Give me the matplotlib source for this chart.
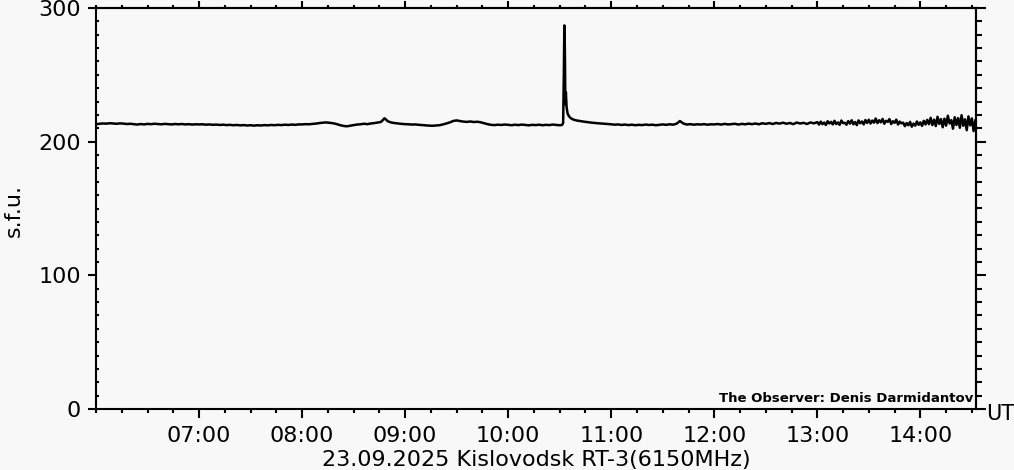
import numpy as np
import matplotlib.pyplot as plt
from matplotlib.ticker import MultipleLocator, FixedLocator, NullFormatter

# flux in s.f.u.; each block: start (hour), step (min), values
quiet_0600 = [213.0, 213.4, 213.6, 213.5, 213.8, 213.6, 213.4, 213.7, 213.5, 213.2,
              213.4, 213.1, 212.8, 213.2, 212.9, 213.3, 213.1, 213.4, 213.2, 213.0,
              213.3, 213.1, 212.9, 213.2, 213.0, 213.2, 212.9, 213.1, 212.8, 213.0]
quiet_0700 = [212.9, 213.0, 212.7, 212.9, 212.6, 212.8, 212.5, 212.7, 212.4, 212.6,
              212.3, 212.5, 212.2, 212.4, 212.1, 212.3, 212.0, 212.3, 212.1, 212.4,
              212.2, 212.5, 212.3, 212.6, 212.4, 212.7, 212.5, 212.8, 212.6, 212.9]
quiet_0800 = [212.9, 213.1, 213.0, 213.3, 213.5, 213.9, 214.2, 214.4, 214.1, 213.8,
              213.2, 212.4, 211.8, 211.5, 211.9, 212.4, 212.8, 213.0, 213.4, 213.1,
              213.6, 213.9, 214.3, 214.8, 217.5, 215.2, 214.3, 213.9, 213.6, 213.3]
quiet_0900 = [213.1, 213.0, 212.8, 212.9, 212.6, 212.4, 212.2, 212.0, 211.9, 212.1,
              212.3, 212.9, 213.6, 214.4, 215.5, 215.9, 215.4, 215.0, 214.8, 215.1,
              214.7, 214.9, 214.5, 213.8, 213.1, 212.6, 212.4, 212.7, 212.5, 212.8]
quiet_1000 = [212.6, 212.3, 212.7, 212.4, 212.8, 212.5, 212.2, 212.6, 212.4, 212.7,
              212.3, 212.6, 212.4, 212.8, 212.5, 212.3]

# burst near 10:33 (minutes after 10:00)
burst_min = [31.4, 32.0, 32.4, 32.7, 33.0, 33.3, 33.6, 34.0, 34.6, 35.4,
             36.5, 38.0, 40.0, 44.0, 48.0, 52.0, 56.0]
burst_val = [212.5, 214.0, 250.0, 287.0, 270.0, 228.0, 237.0, 226.0, 221.0, 219.0,
             217.5, 216.5, 215.8, 215.0, 214.3, 213.8, 213.4]

quiet_1100 = [213.0, 212.7, 212.9, 212.5, 212.8, 212.4, 212.7, 212.3, 212.6, 212.4,
              212.8, 212.5, 212.7, 212.3, 212.6, 212.9, 212.6, 213.0, 212.7, 213.4,
              215.4, 213.6, 212.8, 213.1, 212.7, 213.0, 212.8, 213.1, 212.7, 213.0]
quiet_1200 = [212.9, 213.2, 212.8, 213.3, 212.9, 213.1, 213.4, 212.8, 213.3, 213.0,
              213.5, 213.1, 213.6, 213.0, 213.8, 213.3, 213.9, 213.2, 214.0, 213.5,
              214.2, 213.4, 214.0, 213.1, 214.3, 213.6, 214.1, 213.2, 214.4, 213.7]
noisy_1300 = [214.6, 212.8, 215.0, 213.1, 214.3, 212.5, 215.3, 213.6, 214.8, 212.9,
              215.6, 213.2, 214.4, 212.6, 215.8, 213.9, 214.1, 212.7, 215.4, 213.5,
              216.0, 213.0, 214.7, 212.4, 215.9, 213.8, 215.1, 212.9, 216.2, 214.0,
              216.4, 213.6, 215.8, 214.2, 217.3, 213.9, 216.0, 214.5, 217.0, 213.4,
              215.6, 214.8, 216.9, 213.2, 215.3, 214.1, 216.5, 212.8, 215.0, 213.7,
              214.2, 211.6, 213.9, 212.3, 214.8, 211.2, 213.5, 212.0, 215.1, 212.6,
              214.4, 211.8, 215.6, 212.9, 216.3,
              213.1, 217.8, 212.4, 216.5, 211.7, 218.6, 213.3, 216.9, 210.8, 217.2,
              212.0, 219.4, 213.6, 216.1, 209.7, 218.3, 212.5, 217.6, 210.4, 219.8,
              211.9, 216.7, 208.6, 218.9, 212.2, 217.4, 207.9, 215.8]

blocks = [(6.0, 2, quiet_0600), (7.0, 2, quiet_0700), (8.0, 2, quiet_0800),
          (9.0, 2, quiet_0900), (10.0, 2, quiet_1000)]

hour_labels = ['07:00', '08:00', '09:00', '10:00', '11:00', '12:00', '13:00', '14:00']
hour_ticks = [7, 8, 9, 10, 11, 12, 13, 14]

t, v = [], []
for start, step, vals in blocks:
    t += list(start + np.arange(len(vals)) * step / 60.0)
    v += vals
t += [10.0 + m / 60.0 for m in burst_min]
v += burst_val
for start, step, vals in [(11.0, 2, quiet_1100), (12.0, 2, quiet_1200), (13.0, 1, noisy_1300)]:
    t += list(start + np.arange(len(vals)) * step / 60.0)
    v += vals

bg = '#f8f8f8'
W, H = 1014, 470
fig = plt.figure(figsize=(W / 100, H / 100), dpi=100, facecolor=bg)
ax = fig.add_axes([96 / W, 61 / H, 880 / W, 401 / H], facecolor=bg)

ax.plot(t, v, color='black', lw=1.8)
ax.set_xlim(6.0, 14.54)
ax.set_ylim(0, 300)

fs = 16
ax.xaxis.set_major_locator(FixedLocator(hour_ticks))
ax.set_xticklabels(hour_labels, fontsize=fs)
ax.xaxis.set_minor_locator(MultipleLocator(0.25))
ax.yaxis.set_major_locator(FixedLocator([0, 100, 200, 300]))
ax.set_yticklabels(['0', '100', '200', '300'], fontsize=fs)
ax.yaxis.set_minor_locator(MultipleLocator(10))

for s in ax.spines.values():
    s.set_linewidth(1.5)
ax.tick_params(axis='x', which='major', direction='out', length=6.5, width=1.5, pad=6)
ax.tick_params(axis='x', which='minor', direction='out', length=3, width=1.5)
ax.tick_params(axis='y', which='major', direction='out', length=6, width=1.5, pad=5)
ax.tick_params(axis='y', which='minor', direction='in', length=2.5, width=1.5)

top = ax.secondary_xaxis('top')
top.xaxis.set_major_locator(FixedLocator(hour_ticks))
top.xaxis.set_minor_locator(MultipleLocator(0.25))
top.xaxis.set_major_formatter(NullFormatter())
top.tick_params(which='major', direction='out', length=5, width=1.5)
top.tick_params(which='minor', direction='out', length=2.5, width=1.5)
top.spines['top'].set_linewidth(1.5)

right = ax.secondary_yaxis('right')
right.yaxis.set_major_locator(FixedLocator([0, 100, 200, 300]))
right.yaxis.set_minor_locator(MultipleLocator(10))
right.yaxis.set_major_formatter(NullFormatter())
right.tick_params(which='major', direction='out', length=7, width=1.5)
right.tick_params(which='minor', direction='out', length=4, width=1.5)
right.spines['right'].set_linewidth(1.5)

fig.text(14 / W, 1 - 211 / H, 's.f.u.', rotation=90, ha='center', va='center', fontsize=fs)
fig.text(986 / W, 1 - 414 / H, 'UT', ha='left', va='center', fontsize=15)
fig.text(536 / W, 1 - 450 / H, '23.09.2025 Kislovodsk RT-3(6150MHz)',
         ha='center', va='top', fontsize=fs)
fig.text(973 / W, 1 - 398 / H, 'The Observer: Denis Darmidantov',
         ha='right', va='center', fontsize=9.5, fontweight='bold')

fig.savefig('out.png', dpi=100, facecolor=bg)
